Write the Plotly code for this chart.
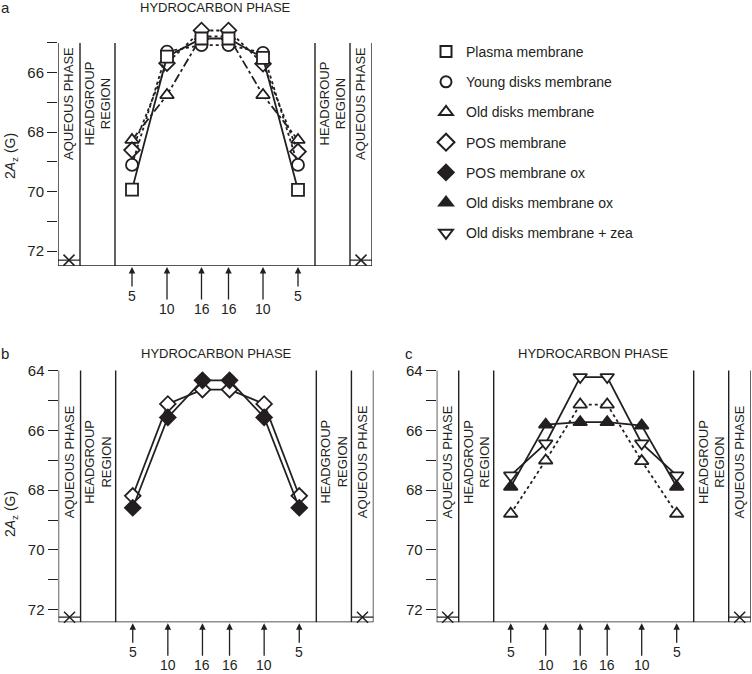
import plotly.graph_objects as go

# label positions along the acyl chain (doxyl carbon), in chart units
positions = [-83, -48, -13.5, 13.5, 48, 83]
position_labels = ["5", "10", "16", "16", "10", "5"]

# panel a, 2Az in gauss
plasma = [69.93, 65.46, 64.85, 64.85, 65.5, 69.94]
young_disks = [69.1, 65.29, 65.07, 65.07, 65.33, 69.1]
old_disks = [68.26, 66.75, 64.78, 64.78, 66.75, 68.26]
pos_membrane = [68.6, 65.68, 64.58, 64.58, 65.7, 68.65]

# panel b
pos_b = [68.19, 65.12, 64.64, 64.64, 65.12, 68.19]
pos_ox = [68.59, 65.57, 64.33, 64.33, 65.57, 68.59]

# panel c
old_c = [68.79, 67.01, 65.14, 65.14, 67.03, 68.79]
old_ox = [67.89, 65.81, 65.73, 65.73, 65.84, 67.89]
old_zea = [67.51, 66.44, 64.22, 64.22, 66.44, 67.51]

# value in the aqueous phase
aqueous = [72.3, 72.25, 72.25]

W, H = 752, 674
ink = "#231f20"
FONT = "Liberation Sans, Arial, sans-serif"

# region boundaries in chart units
EDGE, HEAD, HYDRO = 157, 135, 100

# pixel boxes of the three panels: (left, right, top, bottom) and y ranges
panels = {
    "a": dict(px=(58, 372, 28.1, 266.1), yr=(72.5, 64.5), top=65, xa="x", ya="y"),
    "b": dict(px=(58.5, 373.5, 361.5, 622.3), yr=(72.42, 63.7), top=64, xa="x2", ya="y2"),
    "c": dict(px=(436.7, 750.7, 361.5, 622.3), yr=(72.42, 63.7), top=64, xa="x3", ya="y3"),
}

fig = go.Figure()


def series(y, panel, symbol, fill, dash):
    p = panels[panel]
    fig.add_trace(go.Scatter(
        x=positions, y=y, mode="lines+markers", xaxis=p["xa"], yaxis=p["ya"],
        line=dict(color=ink, width=1.8, dash=dash),
        marker=dict(symbol=symbol, size=12, color=fill, line=dict(color=ink, width=1.8)),
        showlegend=False, cliponaxis=False))


series(old_disks, "a", "triangle-up", "white", "dashdot")
series(pos_membrane, "a", "diamond", "white", "dot")
series(young_disks, "a", "circle", "white", "dot")
series(plasma, "a", "square", "white", "solid")

series(pos_b, "b", "diamond", "white", "solid")
series(pos_ox, "b", "diamond", ink, "solid")

series(old_c, "c", "triangle-up", "white", "dot")
series(old_zea, "c", "triangle-down", "white", "solid")
series(old_ox, "c", "triangle-up", ink, "solid")

# legend entries (markers only)
legend_items = [
    ("Plasma membrane", "square", "white", 11),
    ("Young disks membrane", "circle", "white", 11),
    ("Old disks membrane", "triangle-up", "white", 12),
    ("POS membrane", "diamond", "white", 13),
    ("POS membrane ox", "diamond", ink, 12),
    ("Old disks membrane ox", "triangle-up", ink, 12),
    ("Old disks membrane + zea", "triangle-down", "white", 12),
]
for i, (name, sym, fill, size) in enumerate(legend_items):
    fig.add_trace(go.Scatter(
        x=[None], y=[None], mode="markers", name=name, legendgroup=f"g{i}",
        marker=dict(symbol=sym, size=size, color=fill, line=dict(color=ink, width=2))))

shapes = []
annotations = []
layout_axes = {}

for k, (key, p) in enumerate(panels.items()):
    l, r, t, b = p["px"]
    sfx = "" if k == 0 else str(k + 1)
    layout_axes["xaxis" + sfx] = dict(
        domain=[l / W, r / W], range=[-EDGE, EDGE], visible=False,
        anchor=p["ya"], fixedrange=True)
    layout_axes["yaxis" + sfx] = dict(
        domain=[1 - b / H, 1 - t / H], range=list(p["yr"]), anchor=p["xa"],
        tick0=0, dtick=2, ticks="outside", ticklen=10, tickwidth=1.4, tickcolor=ink,
        minor=dict(dtick=1, tick0=0, ticks="outside", ticklen=10, tickwidth=1.4, tickcolor=ink),
        showgrid=False, zeroline=False, showline=False, fixedrange=True,
        tickfont=dict(size=15, color=ink, family=FONT))
    xr, yr = p["xa"], p["ya"]
    bottom = p["yr"][0]
    # frame: axis line, region boundaries, baseline
    for xv in [-EDGE, -HEAD, -HYDRO, HYDRO, HEAD, EDGE]:
        shapes.append(dict(type="line", xref=xr, yref=yr, x0=xv, x1=xv, y0=p["top"], y1=bottom,
                           line=dict(color=ink, width=1.4)))
    shapes.append(dict(type="line", xref=xr, yref=yr, x0=-EDGE - 2, x1=EDGE, y0=bottom, y1=bottom,
                       line=dict(color=ink, width=1.6)))
    # aqueous level marks
    aq = aqueous[k]
    for x0, x1 in [(-EDGE, -HEAD), (HEAD, EDGE)]:
        shapes.append(dict(type="line", xref=xr, yref=yr, x0=x0, x1=x1, y0=aq, y1=aq,
                           line=dict(color=ink, width=1.2)))
    fig.add_trace(go.Scatter(
        x=[-(EDGE + HEAD) / 2, (EDGE + HEAD) / 2], y=[aq, aq], mode="markers",
        xaxis=xr, yaxis=yr, showlegend=False, cliponaxis=False,
        marker=dict(symbol="x-thin", size=11, line=dict(color=ink, width=1.5))))

    # region labels
    lab_y = 67.05
    for xv, txt in [(-(EDGE + HEAD) / 2, "AQUEOUS PHASE"), (-(HEAD + HYDRO) / 2, "HEADGROUP<br>REGION"),
                    ((HEAD + HYDRO) / 2, "HEADGROUP<br>REGION"), ((EDGE + HEAD) / 2, "AQUEOUS PHASE")]:
        annotations.append(dict(x=xv, y=lab_y, xref=xr, yref=yr, text=txt, textangle=-90,
                                showarrow=False, font=dict(size=13, color=ink, family=FONT)))
    # title over hydrocarbon region
    ty = 8 if key == "a" else 353
    annotations.append(dict(x=0, y=1 - ty / H, xref=xr, yref="paper", text="HYDROCARBON PHASE",
                            xanchor="center", yanchor="middle", showarrow=False,
                            font=dict(size=13, color=ink, family=FONT)))
    # panel letter
    lx = 5 if key in ("a", "b") else 409
    annotations.append(dict(x=lx / W, y=1 - ty / H, xref="paper", yref="paper", text=key,
                            xanchor="center", yanchor="middle", showarrow=False,
                            font=dict(size=15, color=ink, family=FONT)))
    # y-axis title
    if key in ("a", "b"):
        annotations.append(dict(x=11 / W, y=68.8, xref="paper", yref=yr,
                                xanchor="center", yanchor="middle",
                                text="2<i>A</i><sub>z</sub> (G)", textangle=-90, showarrow=False,
                                font=dict(size=14, color=ink, family=FONT)))
    # label position arrows
    for xv, txt in zip(positions, position_labels):
        off = 30 if txt == "5" else 43
        annotations.append(dict(x=xv, y=bottom, xref=xr, yref=yr, text=txt, showarrow=True,
                                ax=0, ay=off, arrowhead=2, arrowsize=1, arrowwidth=1.3,
                                arrowcolor=ink, standoff=1,
                                font=dict(size=14, color=ink, family=FONT)))

fig.update_layout(
    width=W, height=H, margin=dict(l=0, r=0, t=0, b=0),
    paper_bgcolor="white", plot_bgcolor="white",
    shapes=shapes, annotations=annotations,
    legend=dict(x=426 / W, y=1 - 36 / H, xanchor="left", yanchor="top",
                tracegroupgap=9, itemsizing="trace",
                font=dict(size=14, color=ink, family=FONT), bgcolor="rgba(0,0,0,0)"),
    **layout_axes,
)

# the page body has a default 8px margin; drop it so the figure fills the window
fig.write_html("out.html", config={"displayModeBar": False},
               post_script="document.body.style.margin='0px';")
